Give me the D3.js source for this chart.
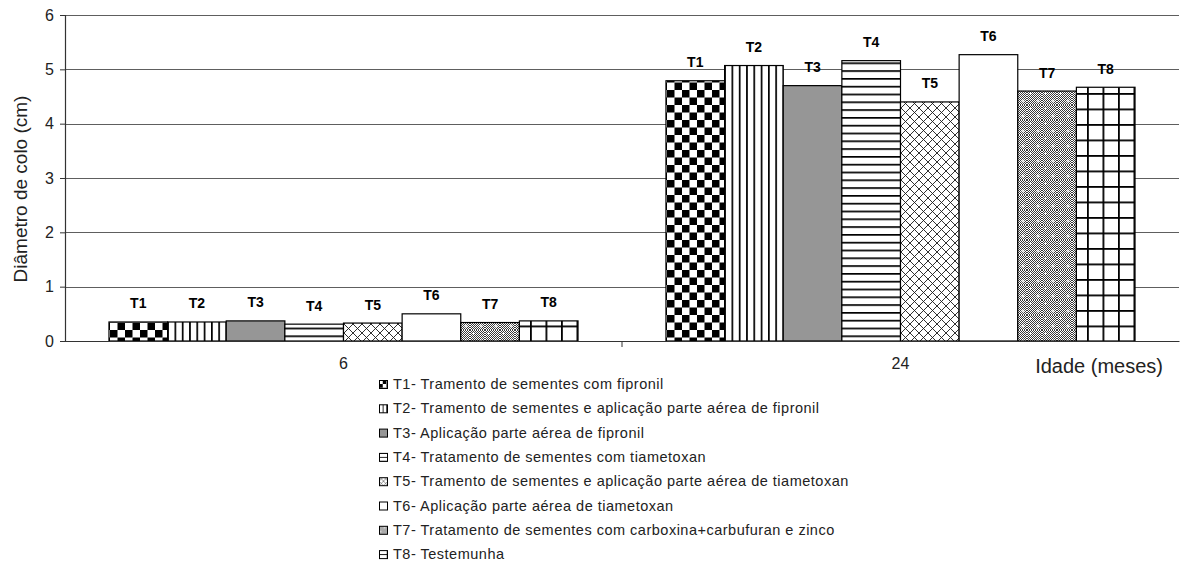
<!DOCTYPE html>
<html>
<head>
<meta charset="utf-8">
<script src="https://cdn.jsdelivr.net/npm/d3@7"></script>
<style>
  html, body { margin: 0; padding: 0; background: #fff; }
  svg { display: block; font-family: "Liberation Sans", Arial, sans-serif; }
</style>
</head>
<body>
<svg id="chart" width="1180" height="570"></svg>
<script>
// Age groups (months) on the x axis
const categories = ["6", "24"];
// Treatments, one bar per treatment in each age group
const treatments = ["T1", "T2", "T3", "T4", "T5", "T6", "T7", "T8"];
// Stem (collar) diameter in cm
const diam6 = [0.35, 0.35, 0.37, 0.31, 0.33, 0.50, 0.34, 0.37];
const diam24 = [4.79, 5.07, 4.70, 5.16, 4.40, 5.27, 4.60, 4.67];
const yTicks = [0, 1, 2, 3, 4, 5, 6];
const legendLabels = [
  "T1- Tramento de sementes com fipronil",
  "T2- Tramento de sementes e aplicação parte aérea de fipronil",
  "T3- Aplicação parte aérea de fipronil",
  "T4- Tratamento de sementes com tiametoxan",
  "T5- Tramento de sementes e aplicação parte aérea de tiametoxan",
  "T6- Aplicação parte aérea de tiametoxan",
  "T7- Tratamento de sementes com carboxina+carbufuran e zinco",
  "T8- Testemunha"
];
const yTitle = "Diâmetro de colo (cm)";
const xTitle = "Idade (meses)";

const values = [diam6, diam24];
const rows = categories.map((c, i) => ({ cat: c, vals: treatments.map((t, j) => ({ t, v: values[i][j] })) }));

const svg = d3.select("#chart");
const plot = { left: 65, right: 1179, top: 15, bottom: 341 };

// ---- fill patterns ----
const defs = svg.append("defs");

function pat(id, w, h, scale) {
  const p = defs.append("pattern").attr("id", id)
    .attr("patternUnits", "userSpaceOnUse").attr("width", w).attr("height", h);
  if (scale) p.attr("patternTransform", `scale(${scale})`);
  p.append("rect").attr("width", w).attr("height", h).attr("fill", "#fff");
  return p;
}

function buildPatterns(suffix, scale) {
  // T1 checkerboard
  let p = pat("p1" + suffix, 15, 15, scale);
  p.append("rect").attr("width", 7.5).attr("height", 7.5).attr("fill", "#000");
  p.append("rect").attr("x", 7.5).attr("y", 7.5).attr("width", 7.5).attr("height", 7.5).attr("fill", "#000");
  // T2 vertical lines
  p = pat("p2" + suffix, 7.3, 10, scale);
  p.append("rect").attr("x", 0).attr("width", 1.7).attr("height", 10).attr("fill", "#000");
  // T3 solid grey
  p = pat("p3" + suffix, 10, 10, scale);
  p.append("rect").attr("width", 10).attr("height", 10).attr("fill", "#969696");
  // T4 horizontal lines
  p = pat("p4" + suffix, 10, 7.8, scale);
  p.append("rect").attr("y", 0).attr("width", 10).attr("height", 1.7).attr("fill", "#000");
  // T5 diagonal crosshatch
  p = pat("p5" + suffix, 9, 9, scale);
  p.append("path").attr("d", "M0,0L9,9M9,0L0,9")
    .attr("stroke", "#1a1a1a").attr("stroke-width", 0.9).attr("fill", "none");
  // T6 plain white
  pat("p6" + suffix, 10, 10, scale);
  // T7 dithered dark grey with white dots
  p = pat("p7" + suffix, 15, 15, scale);
  for (let yy = 0; yy < 15; yy += 1) {
    for (let xx = (yy % 2); xx < 15; xx += 2) {
      p.append("rect").attr("x", xx).attr("y", yy).attr("width", 1).attr("height", 1).attr("fill", "#3a3a3a");
    }
  }
  [[3.5, 3.5], [11, 11]].forEach(([cx, cy]) => {
    p.append("rect").attr("x", cx - 1.5).attr("y", cy - 0.5).attr("width", 3).attr("height", 1).attr("fill", "#fff");
    p.append("rect").attr("x", cx - 0.5).attr("y", cy - 1.5).attr("width", 1).attr("height", 3).attr("fill", "#fff");
  });
  // T8 square grid
  p = pat("p8" + suffix, 15.5, 15.5, scale);
  p.append("rect").attr("width", 1.8).attr("height", 15.5).attr("fill", "#000");
  p.append("rect").attr("width", 15.5).attr("height", 1.8).attr("fill", "#000");
}
buildPatterns("", null);
buildPatterns("m", 0.5);

const fillFor = (t, suffix = "") => `url(#p${t.slice(1)}${suffix})`;

// ---- scales ----
const x0 = d3.scaleBand().domain(categories).range([plot.left, plot.right]).paddingInner(0).paddingOuter(0);
const x1 = d3.scaleBand().domain(treatments).range([0, x0.bandwidth()]).paddingInner(0).paddingOuter(0.75);
const y = d3.scaleLinear().domain([0, 6]).range([plot.bottom, plot.top]);

// ---- gridlines ----
svg.append("g").selectAll("line").data(yTicks.filter(d => d > 0)).join("line")
  .attr("x1", plot.left).attr("x2", plot.right)
  .attr("y1", d => Math.round(y(d)) + 0.5).attr("y2", d => Math.round(y(d)) + 0.5)
  .attr("stroke", "#5e5e5e").attr("stroke-width", 1);

// ---- bars ----
const groups = svg.append("g").selectAll("g").data(rows).join("g")
  .attr("transform", d => `translate(${x0(d.cat)},0)`);

groups.selectAll("rect").data(d => d.vals).join("rect")
  .attr("x", d => x1(d.t))
  .attr("y", d => y(d.v))
  .attr("width", x1.bandwidth())
  .attr("height", d => y(0) - y(d.v))
  .attr("fill", d => fillFor(d.t))
  .attr("stroke", "#000").attr("stroke-width", 1.2);

groups.selectAll("text").data(d => d.vals).join("text")
  .attr("x", d => x1(d.t) + x1.bandwidth() / 2)
  .attr("y", d => y(d.v) - 13.5)
  .attr("text-anchor", "middle")
  .attr("font-size", 14).attr("font-weight", "bold").attr("fill", "#000")
  .text(d => d.t);

// ---- axes ----
const yAxis = d3.axisLeft(y).tickValues(yTicks).tickSize(5).tickPadding(6).tickFormat(d3.format("d"));
const gy = svg.append("g").attr("transform", `translate(${plot.left},0)`).call(yAxis);
gy.select(".domain").attr("stroke", "#333").attr("stroke-width", 1.2);
gy.selectAll(".tick line").attr("stroke", "#333");
gy.selectAll(".tick text").attr("font-size", 16).attr("font-family", "Liberation Sans, Arial, sans-serif").attr("fill", "#222");

const xAxis = d3.axisBottom(x0).tickSize(0).tickPadding(17);
const gx = svg.append("g").attr("transform", `translate(0,${plot.bottom})`).call(xAxis);
gx.select(".domain").attr("stroke", "#333").attr("stroke-width", 1.2);
gx.selectAll(".tick text").attr("font-size", 16).attr("font-family", "Liberation Sans, Arial, sans-serif").attr("fill", "#222");
// category separators below the axis
gx.append("g").selectAll("line").data(categories.slice(1)).join("line")
  .attr("x1", d => x0(d)).attr("x2", d => x0(d)).attr("y1", 0).attr("y2", 6)
  .attr("stroke", "#333");

// ---- titles ----
svg.append("text")
  .attr("transform", `translate(27,189) rotate(-90)`)
  .attr("text-anchor", "middle").attr("font-size", 19).attr("fill", "#222")
  .text(yTitle);

svg.append("text")
  .attr("x", 1163).attr("y", 373).attr("text-anchor", "end")
  .attr("font-size", 20).attr("fill", "#222")
  .text(xTitle);

// ---- legend ----
const legend = svg.append("g").selectAll("g").data(treatments).join("g")
  .attr("transform", (d, i) => `translate(379,${384 + i * 24.3})`);
legend.append("rect")
  .attr("x", 0.5).attr("y", -3.5).attr("width", 8).attr("height", 8)
  .attr("fill", d => fillFor(d, "m")).attr("stroke", "#000").attr("stroke-width", 1);
legend.append("text")
  .attr("x", 14).attr("y", 5)
  .attr("font-size", 14.5).attr("letter-spacing", 0.5).attr("fill", "#222")
  .text((d, i) => legendLabels[i]);
</script>
</body>
</html>
